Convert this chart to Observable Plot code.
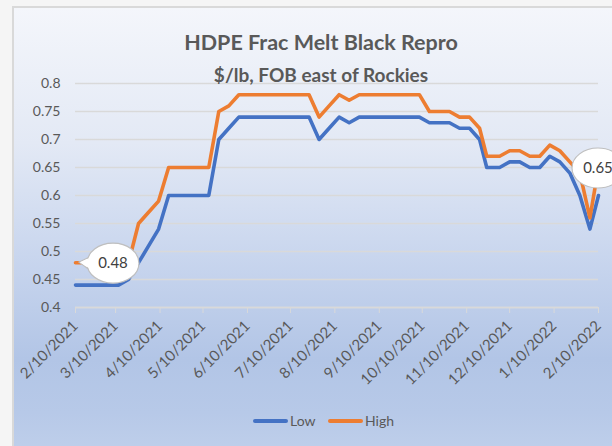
<!DOCTYPE html>
<html>
<head>
<meta charset="utf-8">
<script src="https://cdn.jsdelivr.net/npm/d3@7"></script>
<script src="https://cdn.jsdelivr.net/npm/@observablehq/plot@0.6"></script>
<style>
  html, body { margin: 0; padding: 0; background: #f5f5f5; width: 612px; height: 446px; overflow: hidden; }
  #frame { position: absolute; left: 12px; top: 6px; width: 620px; height: 450px;
    border-left: 2px solid #d9d9d9; border-top: 2px solid #d9d9d9;
    background: linear-gradient(to bottom, #f4f6fb 0%, #e3e9f5 30%, #c9d6ee 55%, #b2c5e6 78%, #b7c9e8 90%, #c0d0eb 100%); }
  #plot { position: absolute; left: 0; top: 0; }
  .title { position: absolute; left: 0; width: 642px; text-align: center; font-family: Lato, "Open Sans", sans-serif; font-weight: bold; color: #595959; line-height: 1; }
  #t1 { top: 32px; font-size: 21.5px; }
  #t2 { top: 65px; font-size: 19px; }
  #legend { position: absolute; top: 412px; left: 0; width: 612px; font-family: Lato, sans-serif; font-size: 14px; color: #595959; }
  .li { position: absolute; top: 0; display: flex; align-items: center; }
  .sw { display: inline-block; width: 35px; height: 4px; border-radius: 2px; margin-right: 2px; }
</style>
</head>
<body>
<div id="frame"></div>
<div id="plot"></div>
<div class="title" id="t1">HDPE Frac Melt Black Repro</div>
<div class="title" id="t2">$/lb, FOB east of Rockies</div>
<div id="legend"></div>
<script>
const dates = [
  "2021-02-10","2021-02-12","2021-02-19","2021-02-26","2021-03-05","2021-03-12","2021-03-19","2021-03-26",
  "2021-04-02","2021-04-09","2021-04-16","2021-04-23","2021-04-30","2021-05-07","2021-05-14","2021-05-21",
  "2021-05-28","2021-06-04","2021-06-11","2021-06-18","2021-06-25","2021-07-02","2021-07-09","2021-07-16",
  "2021-07-23","2021-07-30","2021-08-06","2021-08-13","2021-08-20","2021-08-27","2021-09-03","2021-09-10",
  "2021-09-17","2021-09-24","2021-10-01","2021-10-08","2021-10-15","2021-10-22","2021-10-29","2021-11-05",
  "2021-11-12","2021-11-19","2021-11-24","2021-12-03","2021-12-10","2021-12-17","2021-12-24","2021-12-31",
  "2022-01-07","2022-01-14","2022-01-21","2022-01-28","2022-02-04","2022-02-10"
];
const low = [
  0.44,0.44,0.44,0.44,0.44,0.44,0.45,0.48,
  0.51,0.54,0.60,0.60,0.60,0.60,0.60,0.70,
  0.72,0.74,0.74,0.74,0.74,0.74,0.74,0.74,
  0.74,0.70,0.72,0.74,0.73,0.74,0.74,0.74,
  0.74,0.74,0.74,0.74,0.73,0.73,0.73,0.72,
  0.72,0.70,0.65,0.65,0.66,0.66,0.65,0.65,
  0.67,0.66,0.64,0.60,0.54,0.60
];
const high = [
  0.48,0.48,0.48,0.48,0.48,0.48,0.48,0.55,
  0.57,0.59,0.65,0.65,0.65,0.65,0.65,0.75,
  0.76,0.78,0.78,0.78,0.78,0.78,0.78,0.78,
  0.78,0.74,0.76,0.78,0.77,0.78,0.78,0.78,
  0.78,0.78,0.78,0.78,0.75,0.75,0.75,0.74,
  0.74,0.72,0.67,0.67,0.68,0.68,0.67,0.67,
  0.69,0.68,0.66,0.64,0.56,0.65
];
const xTickLabels = ["2/10/2021","3/10/2021","4/10/2021","5/10/2021","6/10/2021","7/10/2021","8/10/2021",
  "9/10/2021","10/10/2021","11/10/2021","12/10/2021","1/10/2022","2/10/2022"];
const yTicks = [0.4,0.45,0.5,0.55,0.6,0.65,0.7,0.75,0.8];
const seriesNames = ["Low","High"];
const seriesColors = ["#4472c4","#ed7d31"];
const callouts = [{idx: 0, label: "0.48", dx: 38, dy: 1}, {idx: 53, label: "0.65", dx: 0, dy: 1}];

const parseD = s => { const [y,m,d] = s.split("-").map(Number); return new Date(Date.UTC(y, m-1, d)); };
const parseLabel = s => { const [m,d,y] = s.split("/").map(Number); return new Date(Date.UTC(y, m-1, d)); };
const rows = dates.map((d, i) => ({date: parseD(d), low: low[i], high: high[i]}));
const xTicks = xTickLabels.map(parseLabel);
const fmtX = d => `${d.getUTCMonth()+1}/${d.getUTCDate()}/${d.getUTCFullYear()}`;
const fmtY = v => String(+v.toFixed(2));

const chart = Plot.plot({
  width: 612, height: 446,
  marginLeft: 75, marginRight: 14, marginTop: 83, marginBottom: 139,
  style: {background: "transparent", fontFamily: "Lato, 'Open Sans', sans-serif", color: "#595959"},
  x: {type: "utc", domain: [xTicks[0], xTicks[xTicks.length-1]]},
  y: {domain: [0.4, 0.8]},
  marks: [
    Plot.gridY(yTicks, {stroke: "#d9d9d9", strokeOpacity: 1, strokeWidth: 1.3}),
    Plot.axisY(yTicks, {tickSize: 0, tickPadding: 15, tickFormat: fmtY, fontSize: 14, fill: "#595959", label: null}),
    Plot.ruleY([0.4], {stroke: "#d9d9d9", strokeWidth: 1.5}),
    Plot.axisX(xTicks, {tickSize: 6, stroke: "#d9d9d9", strokeOpacity: 1, tickRotate: -45, tickPadding: 10, tickFormat: fmtX, fontSize: 15, fill: "#595959", label: null}),
    Plot.line(rows, {x: "date", y: "low", stroke: seriesColors[0], strokeWidth: 3.6}),
    Plot.line(rows, {x: "date", y: "high", stroke: seriesColors[1], strokeWidth: 3.6})
  ]
});
document.getElementById("plot").appendChild(chart);

// data callouts placed through the plot's scales
const sx = chart.scale("x"), sy = chart.scale("y");
const svg = d3.select(chart);
for (const c of callouts) {
  const r = rows[c.idx];
  const px = sx.apply(r.date), py = sy.apply(r.high);
  const cx = px + c.dx, cy = py + c.dy, rx = 26, ry = 20;
  const g = svg.append("g");
  if (c.dx > 20) {
    const tipX = px + 4, tipY = py;
    const a1 = Math.PI - 0.28, a2 = Math.PI + 0.28;
    const p = d3.path();
    p.moveTo(cx + rx*Math.cos(a1), cy + ry*Math.sin(a1));
    p.lineTo(tipX, tipY);
    p.lineTo(cx + rx*Math.cos(a2), cy + ry*Math.sin(a2));
    g.append("path").attr("d", p.toString()).attr("fill", "#fff").attr("stroke", "#bfbfbf").attr("stroke-width", 1.2);
  }
  g.append("ellipse").attr("cx", cx).attr("cy", cy).attr("rx", rx).attr("ry", ry)
    .attr("fill", "#fff").attr("stroke", "#bfbfbf").attr("stroke-width", 1.2);
  if (c.dx > 20) {
    const a1 = Math.PI - 0.26, a2 = Math.PI + 0.26;
    const p = d3.path();
    p.moveTo(cx + (rx-1)*Math.cos(a1), cy + (ry-1)*Math.sin(a1));
    p.lineTo(px + 5, py);
    p.lineTo(cx + (rx-1)*Math.cos(a2), cy + (ry-1)*Math.sin(a2));
    g.append("path").attr("d", p.toString()).attr("fill", "#fff").attr("stroke", "none");
  }
  g.append("text").attr("x", cx).attr("y", cy).attr("text-anchor", "middle").attr("dy", "0.35em")
    .attr("font-family", "Lato, sans-serif").attr("font-size", 15).attr("fill", "#404040").text(c.label);
}

// legend
const leg = document.getElementById("legend");
const legX = [253, 328];
seriesNames.forEach((n, i) => {
  const d = document.createElement("div");
  d.className = "li"; d.style.left = legX[i] + "px";
  d.innerHTML = `<span class="sw" style="background:${seriesColors[i]}"></span><span>${n}</span>`;
  leg.appendChild(d);
});
</script>
</body>
</html>
